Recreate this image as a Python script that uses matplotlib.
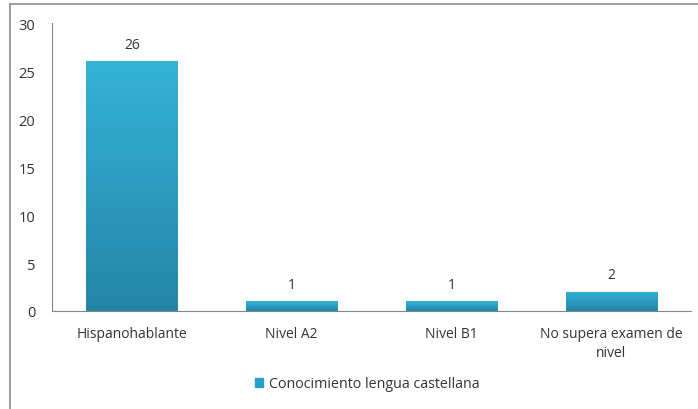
import numpy as np
import matplotlib
matplotlib.use("Agg")
import matplotlib.pyplot as plt
from matplotlib.lines import Line2D
from matplotlib.colors import LinearSegmentedColormap

categories = ["Hispanohablante", "Nivel A2", "Nivel B1", "No supera examen de\nnivel"]
values = [26, 1, 1, 2]
series_name = "Conocimiento lengua castellana"
yticks = [0, 5, 10, 15, 20, 25, 30]

plt.rcParams['font.family'] = ['Open Sans', 'DejaVu Sans']
text_color = "#333333"

fig = plt.figure(figsize=(6.98, 4.10), dpi=100)
ax = fig.add_axes([52 / 698, 98 / 410, 639 / 698, 288 / 410])

x = np.arange(len(categories))
bars = ax.bar(x, values, width=0.57, color="#2b9fc4", zorder=2)

# gradient fill: light cyan at top, darker teal at bottom
cmap = LinearSegmentedColormap.from_list("bar", ["#2386a6", "#35b2d8"])
grad = np.linspace(0, 1, 256).reshape(-1, 1)
for b in bars:
    x0, y0 = b.get_x(), b.get_y()
    im = ax.imshow(grad, cmap=cmap, aspect="auto", origin="lower",
                   extent=[x0, x0 + b.get_width(), y0, y0 + b.get_height()], zorder=3)
    im.set_clip_path(b)

for xi, v in zip(x, values):
    ax.annotate(str(v), (xi, v), xytext=(0, 7), textcoords="offset points",
                ha="center", va="bottom", fontsize=10, color=text_color)

ax.set_xlim(-0.5, len(categories) - 0.5)
ax.set_ylim(0, 30)
ax.set_yticks(yticks)
ax.set_xticks(x)
ax.set_xticklabels(categories, fontsize=10, color=text_color, linespacing=1.3)
ax.tick_params(axis="y", length=0, pad=12, labelsize=10.5, labelcolor=text_color)
ax.tick_params(axis="x", length=0, pad=11)

for s in ["top", "right"]:
    ax.spines[s].set_visible(False)
ax.spines["left"].set_color("#868686")
ax.spines["bottom"].set_color("#868686")

handle = plt.Rectangle((0, 0), 1, 1, color="#2b9fc4")
fig.legend([handle], [series_name], loc="center", bbox_to_anchor=(367 / 698, 1 - 385 / 410),
           frameon=False, fontsize=10.3, handlelength=0.6, handleheight=0.6,
           handletextpad=0.4, labelcolor=text_color)

# outer chart frame (only top and left visible)
fig.add_artist(Line2D([10 / 698, 1], [1 - 5 / 410, 1 - 5 / 410], color="#8c8c8c", lw=1.2,
                      transform=fig.transFigure))
fig.add_artist(Line2D([10 / 698, 10 / 698], [0, 1 - 5 / 410], color="#8c8c8c", lw=1.2,
                      transform=fig.transFigure))

fig.savefig("out.png", dpi=100)
